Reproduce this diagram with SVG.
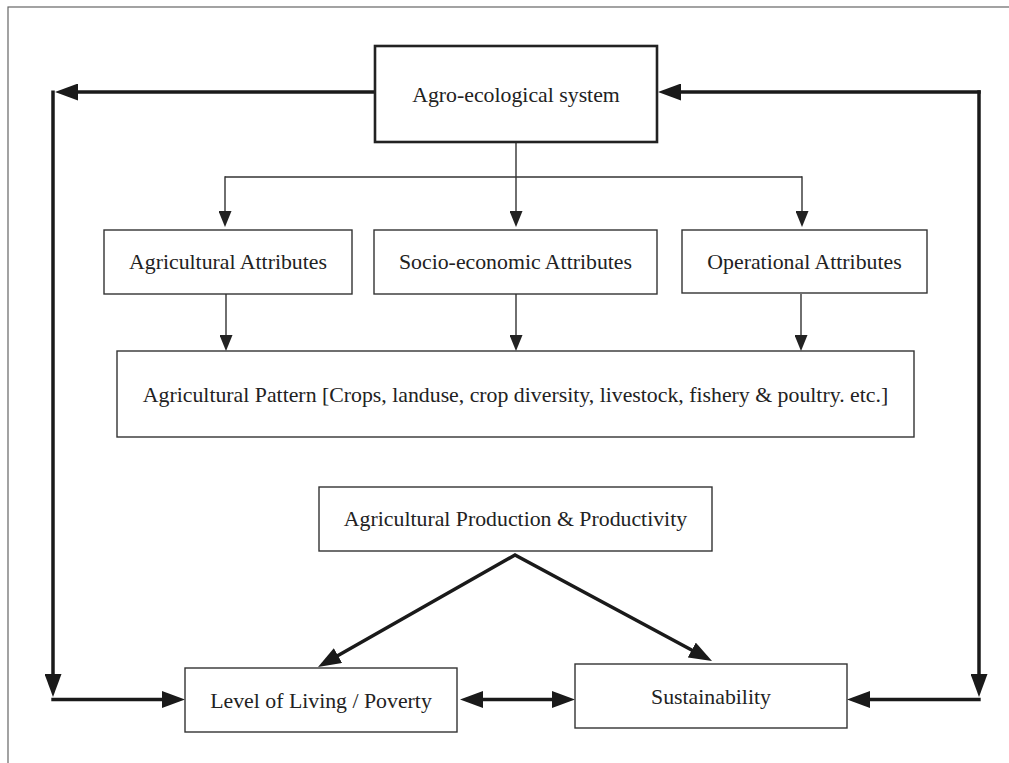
<svg xmlns="http://www.w3.org/2000/svg" width="1009" height="763" viewBox="0 0 1009 763">
<style>
.box{fill:#fff;stroke:#333;stroke-width:1.4}
.bold{fill:#fff;stroke:#222;stroke-width:2.6}
.t{font-family:"Liberation Serif","Times New Roman",serif;font-size:21.8px;fill:#222;text-anchor:middle}
.thin{stroke:#333;stroke-width:1.4;fill:none;marker-end:url(#ah)}
.thinl{stroke:#333;stroke-width:1.4;fill:none}
.thick{stroke:#1a1a1a;stroke-width:3.5;fill:none;marker-end:url(#AH)}
</style>
<defs>
<marker id="ah" markerUnits="userSpaceOnUse" markerWidth="16" markerHeight="13" refX="2" refY="6.5" orient="auto-start-reverse" viewBox="0 0 16 13">
<path d="M0,0 L16,6.5 L0,13 z" fill="#222"/>
</marker>
<marker id="AH" markerUnits="userSpaceOnUse" markerWidth="23" markerHeight="17" refX="3" refY="8.5" orient="auto-start-reverse" viewBox="0 0 23 17">
<path d="M0,0 L23,8.5 L0,17 z" fill="#1a1a1a"/>
</marker>
</defs>
<rect width="1009" height="763" fill="#fff"/>
<rect x="8" y="7" width="1030" height="800" fill="none" stroke="#666" stroke-width="1.2"/>

<g id="connectors">
<line class="thinl" x1="516" y1="143" x2="516" y2="177"/>
<line class="thinl" x1="225" y1="177" x2="802" y2="177"/>
<line class="thin" x1="516" y1="177" x2="516" y2="213"/>
<line class="thin" x1="225" y1="176.3" x2="225" y2="213"/>
<line class="thin" x1="802" y1="176.3" x2="802" y2="213"/>
<line class="thin" x1="226" y1="294" x2="226" y2="337"/>
<line class="thin" x1="516" y1="294" x2="516" y2="337"/>
<line class="thin" x1="801" y1="294" x2="801" y2="337"/>

<line class="thick" x1="375" y1="92" x2="75" y2="92"/>
<line class="thick" x1="53" y1="90.5" x2="53" y2="677"/>
<line class="thick" x1="51.3" y1="699.5" x2="165" y2="699.5"/>

<line class="thick" x1="980.7" y1="92" x2="678" y2="92"/>
<line class="thick" x1="979" y1="90.3" x2="979" y2="677"/>
<line class="thick" x1="980.7" y1="699.5" x2="867" y2="699.5"/>

<line class="thick" x1="480" y1="699.5" x2="555" y2="699.5" style="marker-start:url(#AH)"/>

<path class="thick" d="M335.4,657.1 L515,555 L694.4,651.5" style="marker-start:url(#AH);stroke-linejoin:miter"/>
</g>

<g id="agro">
<rect class="bold" x="375" y="46" width="282" height="96"/>
<text class="t" x="516" y="102">Agro-ecological system</text>
</g>
<g id="agri-attr">
<rect class="box" x="104" y="230" width="248" height="64"/>
<text class="t" x="228" y="269">Agricultural Attributes</text>
</g>
<g id="socio-attr">
<rect class="box" x="374" y="230" width="283" height="64"/>
<text class="t" x="515.5" y="269">Socio-economic Attributes</text>
</g>
<g id="oper-attr">
<rect class="box" x="682" y="230" width="245" height="63"/>
<text class="t" x="804.5" y="269">Operational Attributes</text>
</g>
<g id="pattern">
<rect class="box" x="117" y="351" width="797" height="86"/>
<text class="t" x="515.5" y="402">Agricultural Pattern [Crops, landuse, crop diversity, livestock, fishery &amp; poultry. etc.]</text>
</g>
<g id="production">
<rect class="box" x="319" y="487" width="393" height="64"/>
<text class="t" x="515.5" y="526">Agricultural Production &amp; Productivity</text>
</g>
<g id="living">
<rect class="box" x="185" y="668" width="272" height="64"/>
<text class="t" x="321" y="708">Level of Living / Poverty</text>
</g>
<g id="sustainability">
<rect class="box" x="575" y="664" width="272" height="64"/>
<text class="t" x="711" y="704">Sustainability</text>
</g>
</svg>
